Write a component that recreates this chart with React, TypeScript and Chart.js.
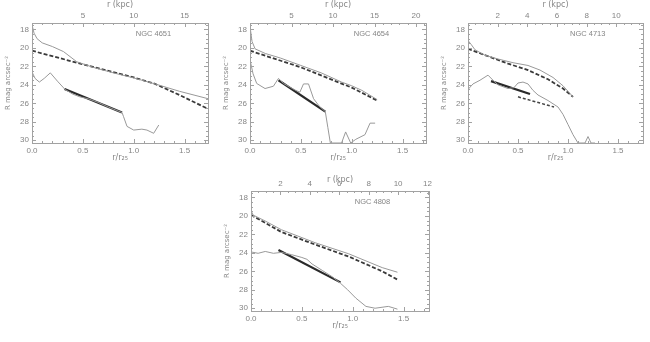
import React, { useEffect, useRef } from "react";
import { Chart, registerables } from "chart.js";

Chart.register(...registerables);

// ---------- tick labels ----------
const rTicks = [0, 0.5, 1.0, 1.5];
const magTicks = [18, 20, 22, 24, 26, 28, 30];
const kpcTicks1 = [5, 10, 15];
const kpcTicks2 = [5, 10, 15, 20];
const kpcTicks3 = [2, 4, 6, 8, 10];
const kpcTicks4 = [2, 4, 6, 8, 10, 12];

// ---------- NGC 4651 ----------
const n4651UpperX = [0, 0.02, 0.05, 0.1, 0.2, 0.31, 0.44, 0.6, 0.8, 1.0, 1.21, 1.45, 1.73];
const n4651UpperY = [17.5, 18.4, 19.0, 19.45, 19.85, 20.4, 21.5, 22.1, 22.7, 23.25, 23.9, 24.7, 25.5];
const n4651DashX = [0, 0.44, 1.0, 1.21, 1.45, 1.73];
const n4651DashY = [20.3, 21.6, 23.2, 23.9, 25.1, 26.6];
const n4651LowerX = [0, 0.03, 0.072, 0.12, 0.18, 0.25, 0.325, 0.4, 0.47, 0.55, 0.65, 0.75, 0.885, 0.9, 0.934, 1.0, 1.08, 1.13, 1.196, 1.246];
const n4651LowerY = [22.6, 23.3, 23.7, 23.3, 22.7, 23.6, 24.5, 25.0, 25.3, 25.5, 25.9, 26.4, 27.0, 27.45, 28.5, 28.9, 28.8, 28.9, 29.25, 28.35];
const n4651FitX = [0.32, 0.885];
const n4651FitY = [24.45, 27.0];

// ---------- NGC 4654 ----------
const n4654UpperX = [0, 0.01, 0.02, 0.05, 0.15, 0.3, 0.5, 0.7, 0.9, 1.0, 1.1, 1.25];
const n4654UpperY = [17.6, 18.5, 19.3, 20.1, 20.6, 21.1, 21.9, 22.7, 23.7, 24.1, 24.6, 25.6];
const n4654DashX = [0, 0.5, 1.0, 1.25];
const n4654DashY = [20.3, 22.1, 24.3, 25.7];
const n4654LowerX = [0, 0.03, 0.066, 0.148, 0.23, 0.28, 0.33, 0.4, 0.45, 0.49, 0.526, 0.575, 0.625, 0.68, 0.74, 0.765, 0.79, 0.9, 0.94, 0.99, 1.04, 1.13, 1.18, 1.23];
const n4654LowerY = [21.3, 22.8, 23.85, 24.4, 24.15, 23.3, 23.85, 24.3, 24.6, 24.8, 23.9, 23.9, 25.5, 26.3, 26.9, 28.6, 30.3, 30.3, 29.1, 30.3, 29.9, 29.4, 28.15, 28.15];
const n4654FitX = [0.28, 0.74];
const n4654FitY = [23.5, 26.9];

// ---------- NGC 4713 ----------
const n4713UpperX = [0, 0.03, 0.07, 0.17, 0.3, 0.45, 0.6, 0.72, 0.85, 0.95, 1.05];
const n4713UpperY = [19.2, 19.6, 20.2, 20.8, 21.2, 21.6, 21.9, 22.4, 23.2, 24.1, 25.3];
const n4713DashX = [0, 0.2, 0.4, 0.6, 0.8, 0.95, 1.05];
const n4713DashY = [20.1, 20.9, 21.7, 22.4, 23.4, 24.4, 25.3];
const n4713LowerX = [0, 0.05, 0.12, 0.2, 0.25, 0.3, 0.4, 0.46, 0.5, 0.55, 0.6, 0.65, 0.7, 0.8, 0.9, 0.95, 1.0, 1.05, 1.1, 1.17, 1.2, 1.23, 1.27];
const n4713LowerY = [24.5, 23.9, 23.5, 22.95, 23.5, 24.0, 24.4, 24.3, 23.8, 23.7, 23.9, 24.6, 25.1, 25.7, 26.4, 27.2, 28.3, 29.4, 30.3, 30.3, 29.6, 30.3, 30.3];
const n4713FitX = [0.23, 0.62];
const n4713FitY = [23.6, 25.0];
const n4713Fit2X = [0.5, 0.86];
const n4713Fit2Y = [25.3, 26.4];

// ---------- NGC 4808 ----------
const n4808UpperX = [0, 0.02, 0.14, 0.3, 0.63, 0.96, 1.29, 1.44];
const n4808UpperY = [19.4, 19.9, 20.55, 21.5, 22.9, 24.1, 25.6, 26.1];
const n4808DashX = [0, 0.14, 0.3, 0.63, 0.96, 1.29, 1.44];
const n4808DashY = [19.9, 20.75, 21.75, 23.1, 24.4, 26.0, 26.9];
const n4808LowerX = [0, 0.07, 0.14, 0.22, 0.3, 0.4, 0.5, 0.55, 0.6, 0.7, 0.8, 0.88, 0.95, 1.03, 1.13, 1.22, 1.35, 1.44];
const n4808LowerY = [23.9, 24.05, 23.85, 24.05, 23.95, 24.2, 24.5, 24.7, 25.2, 25.9, 26.6, 27.3, 28.0, 28.9, 29.8, 30.0, 29.8, 30.1];
const n4808FitX = [0.27, 0.88];
const n4808FitY = [23.7, 27.2];

// ---------- styling ----------
const TEXT = "#858585";
const FRAME = "#a2a2a2";
const FONT = "Liberation Sans";
const LEFT_W = 32;
const TOP_H = 23;
const BOTTOM_H = 27;

type Kind = "profile" | "dash" | "fit" | "fitdash";
type Series = { xs: number[]; ys: number[]; kind: Kind };
type Panel = {
  name: string;
  left: number;
  top: number;
  width: number;
  height: number;
  rightPad: number;
  xMax: number;
  kpcMax: number;
  kpcTicks: number[];
  kpcMinor: number;
  topTitlePad: number;
  series: Series[];
};

const styles: Record<Kind, any> = {
  profile: { borderColor: "#999999", borderWidth: 1, borderDash: [] },
  dash: { borderColor: "#3a3a3a", borderWidth: 1.8, borderDash: [4, 2] },
  fit: { borderColor: "#2a2a2a", borderWidth: 2.2, borderDash: [] },
  fitdash: { borderColor: "#444444", borderWidth: 1.5, borderDash: [3, 2] },
};

const panels: Panel[] = [
  {
    name: "NGC 4651", left: 32, top: 23, width: 176, height: 120, rightPad: 8,
    xMax: 1.73, kpcMax: 17.3, kpcTicks: kpcTicks1, kpcMinor: 1, topTitlePad: 0,
    series: [
      { xs: n4651UpperX, ys: n4651UpperY, kind: "profile" },
      { xs: n4651DashX, ys: n4651DashY, kind: "dash" },
      { xs: n4651LowerX, ys: n4651LowerY, kind: "profile" },
      { xs: n4651FitX, ys: n4651FitY, kind: "fit" },
    ],
  },
  {
    name: "NGC 4654", left: 250, top: 23, width: 176, height: 120, rightPad: 8,
    xMax: 1.73, kpcMax: 21.2, kpcTicks: kpcTicks2, kpcMinor: 1, topTitlePad: 0,
    series: [
      { xs: n4654UpperX, ys: n4654UpperY, kind: "profile" },
      { xs: n4654DashX, ys: n4654DashY, kind: "dash" },
      { xs: n4654LowerX, ys: n4654LowerY, kind: "profile" },
      { xs: n4654FitX, ys: n4654FitY, kind: "fit" },
    ],
  },
  {
    name: "NGC 4713", left: 468, top: 23, width: 175, height: 120, rightPad: 7,
    xMax: 1.75, kpcMax: 11.8, kpcTicks: kpcTicks3, kpcMinor: 0.5, topTitlePad: 0,
    series: [
      { xs: n4713UpperX, ys: n4713UpperY, kind: "profile" },
      { xs: n4713DashX, ys: n4713DashY, kind: "dash" },
      { xs: n4713LowerX, ys: n4713LowerY, kind: "profile" },
      { xs: n4713FitX, ys: n4713FitY, kind: "fit" },
      { xs: n4713Fit2X, ys: n4713Fit2Y, kind: "fitdash" },
    ],
  },
  {
    name: "NGC 4808", left: 251, top: 191, width: 178, height: 120, rightPad: 8,
    xMax: 1.75, kpcMax: 12.1, kpcTicks: kpcTicks4, kpcMinor: 0.5, topTitlePad: 7,
    series: [
      { xs: n4808UpperX, ys: n4808UpperY, kind: "profile" },
      { xs: n4808DashX, ys: n4808DashY, kind: "dash" },
      { xs: n4808LowerX, ys: n4808LowerY, kind: "profile" },
      { xs: n4808FitX, ys: n4808FitY, kind: "fit" },
    ],
  },
];

function drawScaleTicks(ctx: CanvasRenderingContext2D, scale: any, major: number, minor: number, edge: string, area: any) {
  const min = scale.min;
  const max = scale.max;
  const start = Math.ceil(min / minor - 1e-9);
  const end = Math.floor(max / minor + 1e-9);
  ctx.beginPath();
  for (let k = start; k <= end; k++) {
    const v = k * minor;
    const q = v / major;
    const isMajor = Math.abs(q - Math.round(q)) < 1e-6;
    const len = isMajor ? 4 : 2;
    const p = Math.round(scale.getPixelForValue(v)) + 0.5;
    if (edge === "bottom") { ctx.moveTo(p, area.bottom); ctx.lineTo(p, area.bottom - len); }
    if (edge === "top") { ctx.moveTo(p, area.top); ctx.lineTo(p, area.top + len); }
    if (edge === "left") { ctx.moveTo(area.left, p); ctx.lineTo(area.left + len, p); }
    if (edge === "right") { ctx.moveTo(area.right, p); ctx.lineTo(area.right - len, p); }
  }
  ctx.stroke();
}

function makeFramePlugin(p: Panel) {
  return {
    id: "idlFrame",
    afterDatasetsDraw(chart: any) {
      const ctx = chart.ctx as CanvasRenderingContext2D;
      const a = chart.chartArea;
      ctx.save();
      ctx.strokeStyle = FRAME;
      ctx.lineWidth = 1;
      ctx.setLineDash([]);
      ctx.strokeRect(Math.round(a.left) + 0.5, Math.round(a.top) + 0.5, Math.round(a.right - a.left), Math.round(a.bottom - a.top));
      const sx = chart.scales.x;
      const sx2 = chart.scales.x2;
      const sy = chart.scales.y;
      drawScaleTicks(ctx, sx, 0.5, 0.1, "bottom", a);
      drawScaleTicks(ctx, sx2, p.kpcTicks[1] - p.kpcTicks[0], p.kpcMinor, "top", a);
      drawScaleTicks(ctx, sy, 2, 0.5, "left", a);
      drawScaleTicks(ctx, sy, 2, 0.5, "right", a);
      ctx.fillStyle = TEXT;
      ctx.font = `7.5px "${FONT}"`;
      ctx.textAlign = "left";
      ctx.textBaseline = "middle";
      ctx.fillText(p.name, sx.getPixelForValue(1.02), sy.getPixelForValue(18.45));
      ctx.restore();
    },
  };
}

function buildConfig(p: Panel): any {
  const font = { family: FONT, size: 8 };
  return {
    type: "scatter",
    data: {
      datasets: p.series.map((s) => ({
        data: s.xs.map((x, i) => ({ x, y: s.ys[i] })),
        showLine: true,
        pointRadius: 0,
        fill: false,
        tension: 0,
        xAxisID: "x",
        yAxisID: "y",
        ...styles[s.kind],
      })),
    },
    options: {
      responsive: false,
      animation: false,
      devicePixelRatio: 1,
      events: [],
      layout: { autoPadding: false, padding: { left: 0, right: p.rightPad, top: 0, bottom: 0 } },
      plugins: { legend: { display: false }, tooltip: { enabled: false } },
      scales: {
        x: {
          type: "linear", position: "bottom", min: 0, max: p.xMax,
          afterBuildTicks: (s: any) => { s.ticks = rTicks.map((v) => ({ value: v })); },
          afterFit: (s: any) => { s.height = BOTTOM_H; },
          grid: { display: false, drawTicks: false },
          border: { display: false },
          ticks: { color: TEXT, font, padding: 2.5, maxRotation: 0, autoSkip: false, callback: (v: any) => Number(v).toFixed(1) },
          title: { display: true, text: "r/r\u2082\u2085", color: TEXT, font: { family: "DejaVu Sans", size: 8 }, padding: { top: 0, bottom: 7 } },
        },
        x2: {
          type: "linear", position: "top", min: 0, max: p.kpcMax,
          afterBuildTicks: (s: any) => { s.ticks = p.kpcTicks.map((v) => ({ value: v })); },
          afterFit: (s: any) => { s.height = TOP_H; },
          grid: { display: false, drawTicks: false },
          border: { display: false },
          ticks: { color: TEXT, font, padding: 2, maxRotation: 0, autoSkip: false, callback: (v: any) => String(v) },
          title: { display: true, text: "r (kpc)", color: TEXT, font: { family: "DejaVu Sans", size: 8 }, padding: { top: p.topTitlePad, bottom: 0 } },
        },
        y: {
          type: "linear", position: "left", reverse: true, min: 17.3, max: 30.3,
          afterBuildTicks: (s: any) => { s.ticks = magTicks.map((v) => ({ value: v })); },
          afterFit: (s: any) => { s.width = LEFT_W; },
          grid: { display: false, drawTicks: false },
          border: { display: false },
          ticks: { color: TEXT, font, padding: 3, autoSkip: false, callback: (v: any) => String(v) },
          title: { display: true, text: "R mag arcsec\u207B\u00B2", color: TEXT, font: { family: "DejaVu Sans", size: 7 }, padding: { top: 3.5, bottom: 0 } },
        },
      },
    },
    plugins: [makeFramePlugin(p)],
  };
}

function PanelChart({ p }: { p: Panel }) {
  const ref = useRef<HTMLCanvasElement | null>(null);
  const cw = LEFT_W + p.width + p.rightPad;
  const ch = TOP_H + p.height + BOTTOM_H;
  useEffect(() => {
    if (!ref.current) return;
    const chart = new Chart(ref.current, buildConfig(p));
    return () => chart.destroy();
  }, []);
  return (
    <canvas
      ref={ref}
      width={cw}
      height={ch}
      style={{ position: "absolute", left: p.left - LEFT_W, top: p.top - TOP_H, width: cw, height: ch }}
    />
  );
}

export default function App() {
  return (
    <div style={{ position: "absolute", left: 0, top: 0, width: 650, height: 342, background: "#ffffff", overflow: "hidden" }}>
      {panels.map((p) => (
        <PanelChart key={p.name} p={p} />
      ))}
    </div>
  );
}
